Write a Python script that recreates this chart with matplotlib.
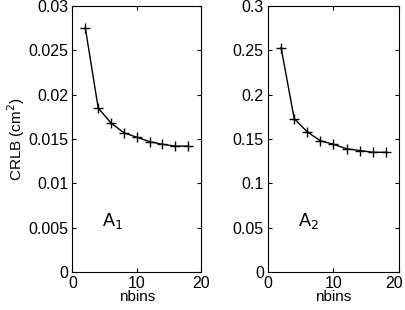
import matplotlib
matplotlib.use("Agg")
import matplotlib.pyplot as plt
from matplotlib.transforms import ScaledTranslation

nbins = [2, 4, 6, 8, 10, 12, 14, 16, 18]
crlb_a1 = [0.0275, 0.0185, 0.0168, 0.0157, 0.0152, 0.0147, 0.0144, 0.0142, 0.0142]
crlb_a2 = [0.253, 0.173, 0.158, 0.148, 0.144, 0.139, 0.137, 0.135, 0.135]

plt.rcParams["font.family"] = ["Liberation Sans", "DejaVu Sans"]
plt.rcParams["font.size"] = 11

fig = plt.figure(figsize=(4.06, 3.10), dpi=100)
W, H = 406, 310
ax1 = fig.add_axes([72.5 / W, 1 - 272 / H, 128.5 / W, 266 / H])
ax2 = fig.add_axes([268 / W, 1 - 272 / H, 131 / W, 266 / H])


def style(ax, ymax, yticks, ylabels):
    ax.set_xlim(0, 20)
    ax.set_ylim(0, ymax)
    ax.set_xticks([0, 10, 20])
    ax.set_yticks(yticks)
    ax.set_yticklabels(ylabels)
    ax.tick_params(direction="in", top=True, right=True, length=3, width=0.8, labelsize=11.5, pad=3)
    for s in ax.spines.values():
        s.set_linewidth(0.8)
    ax.set_xlabel("nbins", labelpad=-1)


ax1.plot(nbins, crlb_a1, "k-+", lw=1.0, ms=7)
style(ax1, 0.03, [0, 0.005, 0.01, 0.015, 0.02, 0.025, 0.03],
      ["0", "0.005", "0.01", "0.015", "0.02", "0.025", "0.03"])
ax1.set_ylabel("CRLB (cm$^2$)", labelpad=1)
ax1.text(4.6, 0.0058, "A$_1$", fontsize=13, va="center")

ax2.plot(nbins, crlb_a2, "k-+", lw=1.0, ms=7)
style(ax2, 0.3, [0, 0.05, 0.1, 0.15, 0.2, 0.25, 0.3],
      ["0", "0.05", "0.1", "0.15", "0.2", "0.25", "0.3"])
ax2.text(4.6, 0.058, "A$_2$", fontsize=13, va="center")

# keep the last x tick label inside the figure edge
fig.canvas.draw()
last = ax2.get_xticklabels()[-1]
last.set_transform(last.get_transform() + ScaledTranslation(-5 / 100, 0, fig.dpi_scale_trans))

fig.savefig("out.png", dpi=100)
